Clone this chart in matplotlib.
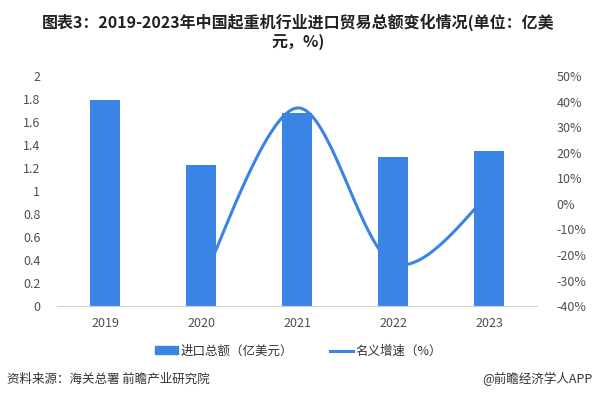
import numpy as np
import matplotlib.pyplot as plt
from matplotlib.lines import Line2D
from matplotlib.patches import Patch

plt.rcParams['font.family'] = ['Noto Sans CJK SC', 'DejaVu Sans']

years = ['2019', '2020', '2021', '2022', '2023']
imports = [1.79, 1.23, 1.68, 1.30, 1.35]
growth = [None, -31.3, 37.5, -23.1, 3.5]

bar_color = '#3a84e6'
line_color = '#3a84e6'


def smooth(xs, ys, n=40, t=0.5):
    # cardinal spline through the points
    xs = np.asarray(xs, float)
    ys = np.asarray(ys, float)
    px, py = [], []
    for i in range(len(xs) - 1):
        x0, y0 = xs[max(i - 1, 0)], ys[max(i - 1, 0)]
        x3, y3 = xs[min(i + 2, len(xs) - 1)], ys[min(i + 2, len(xs) - 1)]
        m1x, m1y = t * (xs[i + 1] - x0), t * (ys[i + 1] - y0)
        m2x, m2y = t * (x3 - xs[i]), t * (y3 - ys[i])
        s = np.linspace(0, 1, n)
        h00 = 2 * s**3 - 3 * s**2 + 1
        h10 = s**3 - 2 * s**2 + s
        h01 = -2 * s**3 + 3 * s**2
        h11 = s**3 - s**2
        px.extend(h00 * xs[i] + h10 * m1x + h01 * xs[i + 1] + h11 * m2x)
        py.extend(h00 * ys[i] + h10 * m1y + h01 * ys[i + 1] + h11 * m2y)
    return np.array(px), np.array(py)


fig = plt.figure(figsize=(5.97, 3.97), dpi=100)
ax = fig.add_axes([0.0955, 0.229, 0.804, 0.5796])
x = np.arange(len(years))
ax.bar(x, imports, width=0.31, color=bar_color, zorder=2)
ax.set_xlim(-0.5, len(years) - 0.5)
ax.set_ylim(0, 2)
ax.set_yticks(np.arange(0, 2.01, 0.2))
ax.set_yticklabels(['0', '0.2', '0.4', '0.6', '0.8', '1', '1.2', '1.4', '1.6', '1.8', '2'])
ax.set_xticks(x)
ax.set_xticklabels(years)
for s in ['top', 'left', 'right']:
    ax.spines[s].set_visible(False)
ax.spines['bottom'].set_color('#d0d0d0')
ax.tick_params(axis='both', length=0, labelsize=9, colors='#505050')
ax.tick_params(axis='y', pad=12)
ax.tick_params(axis='x', pad=8)

ax2 = ax.twinx()
gx = [i for i, g in enumerate(growth) if g is not None]
gy = [g for g in growth if g is not None]
sx, sy = smooth(gx, gy)
ax2.plot(sx, sy, color=line_color, lw=2.2, zorder=3)
ax2.set_ylim(-40, 50)
ax2.set_yticks(np.arange(-40, 51, 10))
ax2.set_yticklabels([f'{v}%' for v in range(-40, 51, 10)])
for s in ['top', 'left', 'right', 'bottom']:
    ax2.spines[s].set_visible(False)
ax2.tick_params(axis='y', length=0, labelsize=9, colors='#505050', pad=14)

fig.text(0.5, 0.965, '图表3：2019-2023年中国起重机行业进口贸易总额变化情况(单位：亿美\n元，%)',
         ha='center', va='top', fontsize=11.5, fontweight='bold', color='#222222',
         linespacing=1.15)

handles = [Patch(color=bar_color), Line2D([0], [0], color=line_color, lw=2.2)]
fig.legend(handles, ['进口总额（亿美元）', '名义增速（%）'], loc='center',
           bbox_to_anchor=(0.5, 0.115), ncol=2, frameon=False, fontsize=9,
           handlelength=1.8, handleheight=0.6, columnspacing=3, handletextpad=0.2,
           labelcolor='#333333')

fig.text(0.012, 0.045, '资料来源：海关总署 前瞻产业研究院', ha='left', va='center',
         fontsize=9, color='#333333')
fig.text(0.992, 0.045, '@前瞻经济学人APP', ha='right', va='center',
         fontsize=9, color='#333333')

fig.savefig('out.png', dpi=100)
